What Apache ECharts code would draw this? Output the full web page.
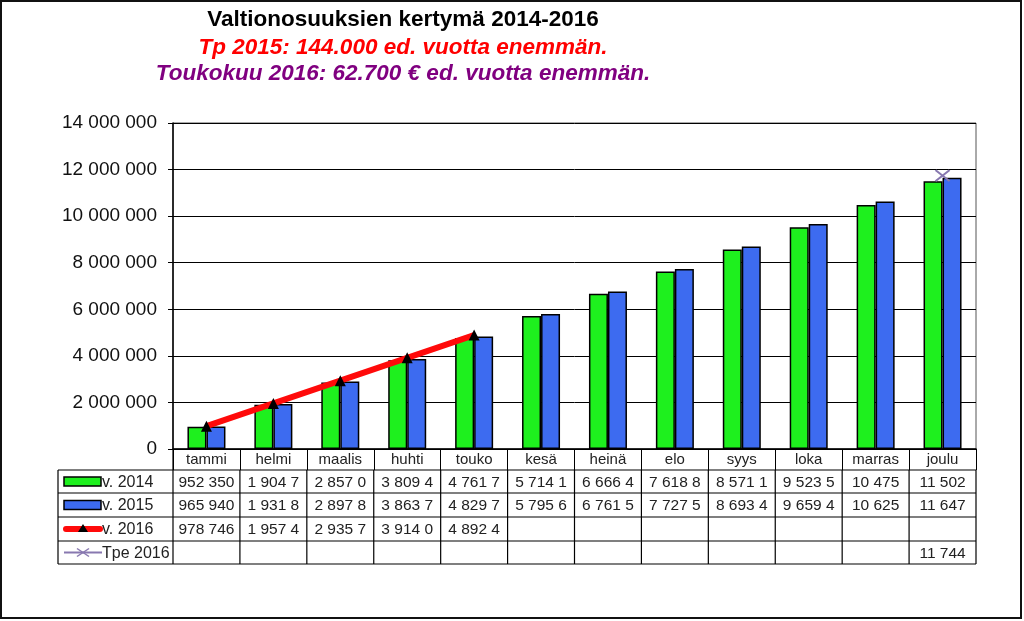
<!DOCTYPE html>
<html><head><meta charset="utf-8">
<script src="https://cdn.jsdelivr.net/npm/echarts@6/dist/echarts.min.js"></script>
<style>html,body{margin:0;padding:0;background:#fff}#c{width:1024px;height:621px}</style>
</head><body><div id="c"></div>
<script>
// ---- data ----
const categories = ['tammi','helmi','maalis','huhti','touko','kesä','heinä','elo','syys','loka','marras','joulu'];
const v2014 = [952350,1904700,2857000,3809400,4761700,5714100,6666400,7618800,8571100,9523500,10475000,11502000];
const v2015 = [965940,1931800,2897800,3863700,4829700,5795600,6761500,7727500,8693400,9659400,10625000,11647000];
const v2016 = [978746,1957400,2935700,3914000,4892400,null,null,null,null,null,null,null];
const tpe2016 = [null,null,null,null,null,null,null,null,null,null,null,11744000];
const seriesNames = ['v. 2014','v. 2015','v. 2016','Tpe 2016'];
const yMin = 0, yMax = 14000000, yStep = 2000000;
const titleLines = ['Valtionosuuksien kertymä 2014-2016','Tp 2015: 144.000 ed. vuotta enemmän.','Toukokuu 2016: 62.700 € ed. vuotta enemmän.'];

// ---- helpers ----
const FONT = '"Liberation Sans", Arial, sans-serif';
function spaced(v){ return String(v).replace(/\B(?=(\d{3})+(?!\d))/g,' '); }
function cell(v){ return v == null ? '' : spaced(v).slice(0,7).trim(); }

const GL = 173, GR = 976, GT = 123, GB = 449;
const chart = echarts.init(document.getElementById('c'), null, {renderer:'canvas'});

const green = '#1ef01e', blue = '#3d6bf0', red = '#ff0a0a', purple = '#8878b0';

chart.setOption({
  animation:false,
  backgroundColor:'#fff',
  grid:{left:GL, right:1024-GR, top:GT, bottom:621-GB, show:true, borderColor:'#555', borderWidth:1, backgroundColor:'transparent'},
  xAxis:{type:'category', data:categories, boundaryGap:true,
    axisLine:{lineStyle:{color:'#000', width:1.5}},
    axisTick:{show:true, length:21, lineStyle:{color:'#000'}},
    axisLabel:{color:'#222', fontSize:15, fontFamily:FONT, margin:3}},
  yAxis:{type:'value', min:yMin, max:yMax, interval:yStep,
    axisLine:{show:true, lineStyle:{color:'#000', width:1.5}},
    axisTick:{show:true, length:5, lineStyle:{color:'#000'}},
    splitLine:{lineStyle:{color:'#000', width:1}},
    axisLabel:{color:'#111', fontSize:19, fontFamily:FONT, margin:16, formatter:v=>spaced(v)}},
  series:[
    {name:seriesNames[0], type:'bar', data:v2014, barWidth:19, barGap:'0%',
      itemStyle:{color:green, borderColor:'#000', borderWidth:1.5}},
    {name:seriesNames[1], type:'bar', data:v2015, barWidth:19, barGap:'0%',
      itemStyle:{color:blue, borderColor:'#000', borderWidth:1.5}},
    {name:seriesNames[2], type:'line', data:v2016, z:5, symbol:'triangle', symbolSize:11,
      itemStyle:{color:'#000'}, lineStyle:{color:red, width:6}},
    {name:seriesNames[3], type:'line', data:tpe2016, z:6,
      symbol:'path://M0,0L10,8M10,0L0,8', symbolSize:[14,11],
      itemStyle:{color:'none', borderColor:purple, borderWidth:2}, lineStyle:{color:purple, width:2}}
  ]
});

// ---- title & data table via graphic ----
const g = [];
const titleStyles = [
  {fill:'#000', font:'bold 22.5px '+FONT},
  {fill:'#ff0000', font:'italic bold 22.5px '+FONT},
  {fill:'#800080', font:'italic bold 22.5px '+FONT}
];
const titleY = [20, 48, 74];
titleLines.forEach((t,i)=>g.push({type:'text', x:403, y:titleY[i], style:Object.assign({text:t, align:'center', verticalAlign:'middle'}, titleStyles[i])}));

const centers = categories.map((c)=>chart.convertToPixel({xAxisIndex:0}, c));
const cw = centers[1]-centers[0];
const rowY = [470, 493, 517, 541, 564];
const TL = 58;
function line(x1,y1,x2,y2,w,c){ g.push({type:'line', shape:{x1,y1,x2,y2}, style:{stroke:c||'#000', lineWidth:w||1}}); }
rowY.forEach(y=>line(TL, y, GR, y, 1.2));
line(TL, rowY[0], TL, rowY[4], 1.2);
line(GL, GB, GL, rowY[4], 1.2);
centers.forEach(cx=>line(cx+cw/2, rowY[0], cx+cw/2, rowY[4], 1.2));

const rows = [v2014, v2015, v2016, tpe2016];
rows.forEach((arr,r)=>{
  const cy = (rowY[r]+rowY[r+1])/2 + 1;
  arr.forEach((v,i)=>{
    const t = cell(v);
    if(t) g.push({type:'text', x:centers[i], y:cy, style:{text:t, align:'center', verticalAlign:'middle', fill:'#222', font:'15.5px '+FONT}});
  });
  g.push({type:'text', x:102, y:cy, style:{text:seriesNames[r], align:'left', verticalAlign:'middle', fill:'#222', font:'16px '+FONT}});
});
// legend keys
let ky = (rowY[0]+rowY[1])/2;
g.push({type:'rect', shape:{x:64, y:ky-4.5, width:37, height:9}, style:{fill:green, stroke:'#000', lineWidth:1.5}});
ky = (rowY[1]+rowY[2])/2;
g.push({type:'rect', shape:{x:64, y:ky-4.5, width:37, height:9}, style:{fill:blue, stroke:'#000', lineWidth:1.5}});
ky = (rowY[2]+rowY[3])/2;
g.push({type:'line', shape:{x1:66, y1:ky, x2:100, y2:ky}, style:{stroke:red, lineWidth:6, lineCap:'round'}});
g.push({type:'polygon', shape:{points:[[83,ky-5],[78,ky+3],[88,ky+3]]}, style:{fill:'#000'}});
ky = (rowY[3]+rowY[4])/2;
g.push({type:'line', shape:{x1:64, y1:ky, x2:102, y2:ky}, style:{stroke:purple, lineWidth:2}});
g.push({type:'polyline', shape:{points:[[77,ky-4],[89,ky+4]]}, style:{stroke:purple, lineWidth:1.5}});
g.push({type:'polyline', shape:{points:[[77,ky+4],[89,ky-4]]}, style:{stroke:purple, lineWidth:1.5}});
// outer frame
g.push({type:'rect', shape:{x:1, y:1, width:1020, height:617}, style:{fill:'none', stroke:'#111', lineWidth:2}, z:-1});

chart.setOption({graphic:{elements:g}});
</script></body></html>
